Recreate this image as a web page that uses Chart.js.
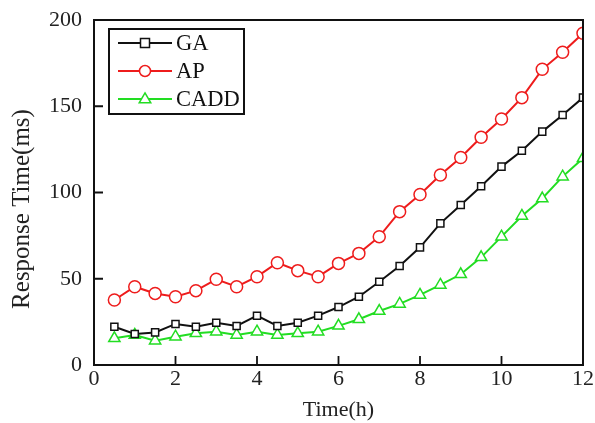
<!DOCTYPE html>
<html>
<head>
<meta charset="utf-8">
<script src="https://cdn.jsdelivr.net/npm/chart.js@4/dist/chart.umd.min.js"></script>
<style>
html,body{margin:0;padding:0;background:#fff;}
#wrap{width:595px;height:423px;position:relative;}
</style>
</head>
<body>
<div id="wrap"><canvas id="c" width="595" height="423"></canvas></div>
<script>
const times = [0.5,1,1.5,2,2.5,3,3.5,4,4.5,5,5.5,6,6.5,7,7.5,8,8.5,9,9.5,10,10.5,11,11.5,12];
const gaValues = [22.2,18,18.9,23.8,22.2,24.5,22.6,28.6,22.6,24.5,28.6,33.6,39.6,48.3,57.4,68.2,82.1,92.8,103.6,115,124.2,135.3,144.9,155];
const apValues = [37.7,45.4,41.5,39.6,43.1,49.7,45.4,51.2,59.3,54.7,51.2,58.9,64.7,74.4,88.9,98.8,110.1,120.3,132,142.6,155,171.4,181.3,192.3];
const caddValues = [15.5,17.4,14.1,16.4,18.4,19.3,17.4,19.3,17.4,18.4,19.3,22.7,26.5,31.3,35.4,40.6,46.4,52.6,62.4,74.4,86.4,96.5,109.2,119.8];
const seriesNames = ['GA','AP','CADD'];
const xTicks = [0,2,4,6,8,10,12];
const yTicks = [0,50,100,150,200];
const xTitle = 'Time(h)';
const yTitle = 'Response Time(ms)';

const FONT = '"Liberation Serif", "Times New Roman", serif';
const toPts = (vals) => times.map((t,i)=>({x:t,y:vals[i]}));

function drawMarker(ctx, style, x, y, r, color){
  ctx.save();
  ctx.fillStyle = '#fff';
  ctx.strokeStyle = color;
  ctx.lineWidth = 1.5;
  ctx.beginPath();
  if(style==='rect'){
    ctx.rect(x-r, y-r, 2*r, 2*r);
  } else if(style==='circle'){
    ctx.arc(x,y,r,0,Math.PI*2);
  } else {
    ctx.moveTo(x, y-r*1.1);
    ctx.lineTo(x+r*1.05, y+r*0.7);
    ctx.lineTo(x-r*1.05, y+r*0.7);
    ctx.closePath();
  }
  ctx.fill(); ctx.stroke();
  ctx.restore();
}

const framePlugin = {
  id:'frame',
  afterDraw(chart){
    const ctx = chart.ctx, a = chart.chartArea;
    const xs = chart.scales.x, ys = chart.scales.y;
    ctx.save();
    ctx.strokeStyle = '#111';
    ctx.lineWidth = 2;
    ctx.strokeRect(a.left, a.top, a.right-a.left, a.bottom-a.top);
    ctx.lineWidth = 1.8;
    ctx.beginPath();
    xTicks.forEach(v=>{
      const px = xs.getPixelForValue(v);
      if(v>0 && v<12){ ctx.moveTo(px, a.bottom); ctx.lineTo(px, a.bottom-9); }
    });
    yTicks.forEach(v=>{
      const py = ys.getPixelForValue(v);
      if(v>0 && v<200){ ctx.moveTo(a.left, py); ctx.lineTo(a.left+9, py); }
    });
    ctx.stroke();

    // y axis title
    ctx.save();
    ctx.translate(22, 209);
    ctx.rotate(-Math.PI/2);
    ctx.fillStyle = '#222';
    ctx.font = '25px ' + FONT;
    ctx.textAlign = 'center';
    ctx.textBaseline = 'middle';
    ctx.fillText(yTitle, 0, 0);
    ctx.restore();

    // legend
    const lx = 109, ly = 29, lw = 135, lh = 85;
    ctx.fillStyle = '#fff';
    ctx.fillRect(lx, ly, lw, lh);
    ctx.lineWidth = 2;
    ctx.strokeStyle = '#111';
    ctx.strokeRect(lx, ly, lw, lh);
    const rowsY = [43, 71, 99];
    chart.data.datasets.forEach((ds,i)=>{
      const y = rowsY[i];
      ctx.strokeStyle = ds.borderColor;
      ctx.lineWidth = 2;
      ctx.beginPath(); ctx.moveTo(118,y); ctx.lineTo(172,y); ctx.stroke();
      drawMarker(ctx, ds.pointStyle, 145, y, ds.pointStyle==='rect'?4.5:5.5, ds.borderColor);
      ctx.fillStyle = '#111';
      ctx.font = '22.5px ' + FONT;
      ctx.textBaseline = 'middle';
      ctx.textAlign = 'left';
      ctx.fillText(ds.label, 176, y+1);
    });
    ctx.restore();
  }
};

new Chart(document.getElementById('c'), {
  type:'line',
  data:{
    datasets:[
      {label:seriesNames[0], data:toPts(gaValues), borderColor:'#111111', pointStyle:'rect', pointRadius:5, pointBorderWidth:1.5, pointBackgroundColor:'#fff', pointBorderColor:'#111111', borderWidth:2},
      {label:seriesNames[1], data:toPts(apValues), borderColor:'#ee1c1c', pointStyle:'circle', pointRadius:6, pointBorderWidth:1.5, pointBackgroundColor:'#fff', pointBorderColor:'#ee1c1c', borderWidth:2},
      {label:seriesNames[2], data:toPts(caddValues), borderColor:'#22dd22', pointStyle:'triangle', pointRadius:6.5, pointBorderWidth:1.5, pointBackgroundColor:'#fff', pointBorderColor:'#22dd22', borderWidth:2}
    ]
  },
  options:{
    responsive:false,
    animation:false,
    layout:{padding:{top:20,right:12,left:0,bottom:0}},
    plugins:{legend:{display:false}, tooltip:{enabled:false}},
    scales:{
      x:{
        type:'linear', min:0, max:12,
        afterBuildTicks(s){ s.ticks = xTicks.map(v=>({value:v})); },
        afterFit(s){ s.height = 58; s.paddingLeft = 0; s.paddingRight = 0; },
        grid:{display:false, drawOnChartArea:false, drawTicks:false},
        border:{display:false},
        ticks:{color:'#222', font:{family:FONT, size:22}, padding:1, maxRotation:0},
        title:{display:true, text:xTitle, color:'#222', font:{family:FONT, size:22}, padding:{top:-7,bottom:0}}
      },
      y:{
        min:0, max:200,
        afterBuildTicks(s){ s.ticks = yTicks.map(v=>({value:v})); },
        afterFit(s){ s.width = 94; s.paddingTop = 0; s.paddingBottom = 0; },
        grid:{display:false, drawOnChartArea:false, drawTicks:false},
        border:{display:false},
        ticks:{color:'#222', font:{family:FONT, size:22}, padding:12},
        title:{display:false}
      }
    }
  },
  plugins:[framePlugin]
});
</script>
</body>
</html>
